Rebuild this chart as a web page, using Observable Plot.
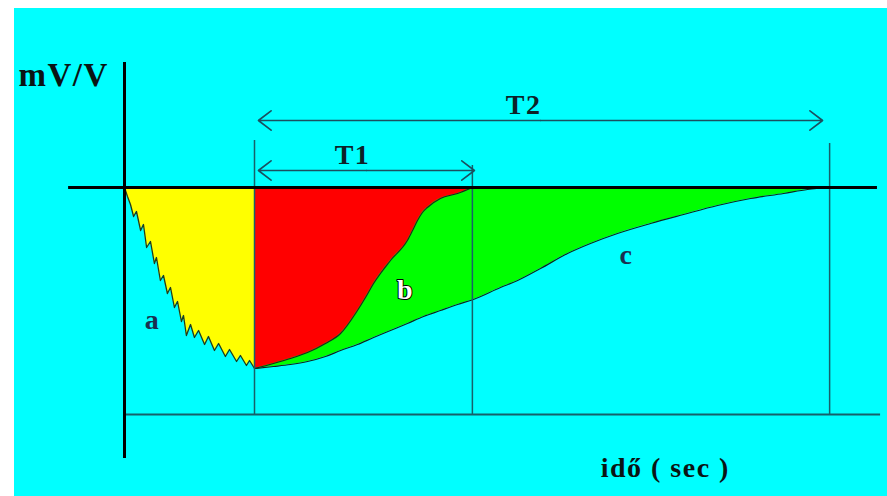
<!DOCTYPE html>
<html><head><meta charset="utf-8">
<script src="https://cdn.jsdelivr.net/npm/d3@7"></script>
<script src="https://cdn.jsdelivr.net/npm/@observablehq/plot@0.6"></script>
<style>
html,body{margin:0;padding:0;background:#ffffff;}
#chart{position:absolute;left:14px;top:8px;}
#chart svg text{letter-spacing:1.5px;}
</style></head><body><div id="chart"></div>
<script>
// time in seconds (arbitrary units), signal in mV/V (negative = below zero line)
// curve a (sawtooth, yellow region)
const aTime = [0,0.115,0.23,0.35,0.46,0.62,0.73,0.85,1.0,1.15,1.23,1.38,1.5,1.65,1.77,1.92,2.04,2.19,2.27,2.38,2.54,2.69,2.85,3.08,3.23,3.46,3.62,3.88,4.04,4.31,4.46,4.69,4.81,5.0];
const aValue = [0,-0.45,-0.85,-1.45,-1.2,-2.15,-1.85,-3.0,-2.7,-3.8,-3.5,-4.65,-4.4,-5.3,-5.0,-6.0,-5.7,-6.7,-6.4,-7.4,-6.85,-7.5,-7.15,-7.85,-7.45,-8.15,-7.8,-8.45,-8.1,-8.7,-8.4,-8.9,-8.65,-9.05];
// curve b (red region)
const bTime = [5.0,5.73,6.38,7.04,7.73,8.31,8.96,9.27,9.58,10.23,10.88,11.08,11.27,11.46,11.65,12.15,12.81,13.38];
const bValue = [-9.05,-8.8,-8.55,-8.25,-7.8,-7.3,-6.15,-5.5,-4.8,-3.65,-2.65,-2.15,-1.65,-1.25,-1.0,-0.55,-0.3,0];
// curve c (green region)
const cTime = [5.0,5.73,6.38,7.04,7.73,8.31,8.96,9.58,10.23,10.88,11.5,12.15,12.81,13.42,14.46,15.12,16.0,17.04,17.92,18.96,20.23,21.5,22.81,24.08,25.35,26.27,27.12];
const cValue = [-9.05,-8.95,-8.85,-8.7,-8.45,-8.15,-7.85,-7.5,-7.15,-6.8,-6.45,-6.15,-5.85,-5.6,-5.0,-4.65,-4.05,-3.3,-2.8,-2.3,-1.8,-1.35,-0.9,-0.55,-0.3,-0.1,0];
// interval markers
const markerTime = [5.0, 13.38, 27.12];
const markerTop = [2.35, 1.1, 2.2];
const baselineValue = -11.35;
const intervalNames = ["T1", "T2"];
const intervalStart = [5.15, 5.15];
const intervalEnd = [13.46, 26.85];
const intervalLevel = [0.85, 3.35];
const intervalLabelTime = [8.77, 15.35];
const intervalLabelValue = [1.6, 4.1];
// curve labels
const curveNames = ["a", "b", "c"];
const curveLabelTime = [1.08, 10.81, 19.31];
const curveLabelValue = [-6.65, -5.15, -3.4];
// axis extents and titles
const yAxisExtent = [6.25, -13.55];
const zeroLineExtent = [-2.15, 28.96];
const baselineExtent = [0, 29.08];
const yTitle = "mV/V", yTitleTime = -4.08, yTitleValue = 5.6;
const xTitle = "idő ( sec )", xTitleTime = 20.8, xTitleValue = -14.05;

const zip = (t, v) => t.map((d, i) => ({t: d, v: v[i]}));
const A = zip(aTime, aValue), B = zip(bTime, bValue), C = zip(cTime, cValue);
const markers = markerTime.map((t, i) => ({t, top: markerTop[i]}));
const intervals = intervalNames.map((n, i) => ({
  name: n, s: intervalStart[i], e: intervalEnd[i], m: (intervalStart[i] + intervalEnd[i]) / 2,
  lvl: intervalLevel[i], lt: intervalLabelTime[i], lv: intervalLabelValue[i]
}));
const curveLabels = curveNames.map((n, i) => ({n, t: curveLabelTime[i], v: curveLabelValue[i]}));

const thin = "#17606a";
const serif = "'Liberation Serif','Times New Roman',serif";

const plot = Plot.plot({
  width: 873, height: 488, margin: 0,
  style: {background: "#00ffff", fontFamily: serif},
  x: {domain: [0, 30], range: [110, 890], axis: null},
  y: {domain: [0, -10], range: [179, 379], axis: null},
  marks: [
    Plot.areaY(A, {x: "t", y1: 0, y2: "v", fill: "#ffff00", curve: "linear"}),
    Plot.areaY(C, {x: "t", y1: 0, y2: "v", fill: "#00ff00", curve: "monotone-x"}),
    Plot.areaY(B, {x: "t", y1: 0, y2: "v", fill: "#ff0000", curve: "monotone-x"}),
    Plot.line(A, {x: "t", y: "v", stroke: "#1e3d1e", strokeWidth: 1.3}),
    Plot.line(B, {x: "t", y: "v", stroke: "#202020", strokeWidth: 1.1, curve: "monotone-x"}),
    Plot.line(C, {x: "t", y: "v", stroke: "#0d2a1a", strokeWidth: 1.2, curve: "monotone-x"}),
    Plot.ruleX(markers, {x: "t", y1: "top", y2: baselineValue, stroke: thin, strokeWidth: 1.5}),
    Plot.ruleY([baselineValue], {x1: baselineExtent[0], x2: baselineExtent[1], stroke: thin, strokeWidth: 1.8}),
    Plot.ruleY([0], {x1: zeroLineExtent[0], x2: zeroLineExtent[1], stroke: "#000", strokeWidth: 3}),
    Plot.ruleX([0], {y1: yAxisExtent[0], y2: yAxisExtent[1], stroke: "#000", strokeWidth: 3}),
    Plot.arrow(intervals, {x1: "m", y1: "lvl", x2: "e", y2: "lvl", stroke: "#1b5060", strokeWidth: 1.6, headLength: 15, headAngle: 75}),
    Plot.arrow(intervals, {x1: "m", y1: "lvl", x2: "s", y2: "lvl", stroke: "#1b5060", strokeWidth: 1.6, headLength: 15, headAngle: 75}),
    Plot.text(intervals, {x: "lt", y: "lv", text: "name", fontSize: 28, fontWeight: "bold", fill: "#0d2228"}),
    Plot.text(curveLabels.filter(d => d.n !== "b"), {x: "t", y: "v", text: "n", fontSize: 28, fontWeight: "bold", fill: "#1a3050"}),
    Plot.text(curveLabels.filter(d => d.n === "b"), {x: "t", y: "v", text: "n", fontSize: 28, fontWeight: "bold", fill: "#ffffff", stroke: "#000", strokeWidth: 2, paintOrder: "stroke"}),
    Plot.text([yTitle], {x: yTitleTime, y: yTitleValue, text: d => d, textAnchor: "start", fontSize: 33, fontWeight: "bold", fill: "#0a1414"}),
    Plot.text([xTitle], {x: xTitleTime, y: xTitleValue, text: d => d, fontSize: 28, fontWeight: "bold", fill: "#0a1414"})
  ]
});
document.getElementById("chart").appendChild(plot);
</script></body></html>
